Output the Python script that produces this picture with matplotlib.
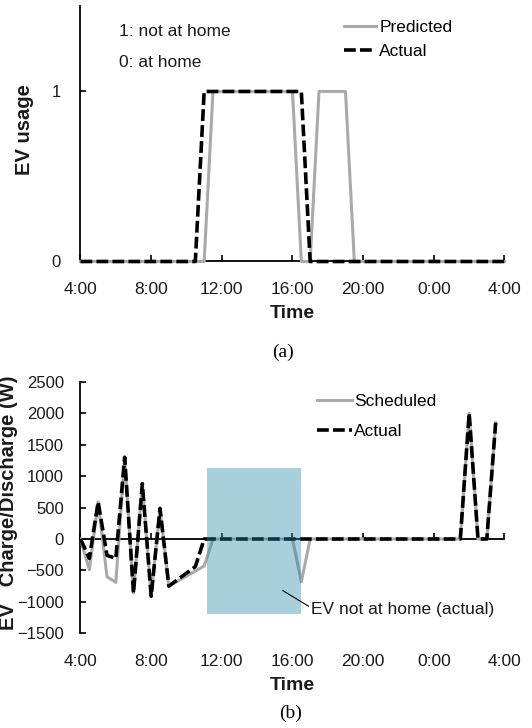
import matplotlib
matplotlib.use('Agg')
import matplotlib.pyplot as plt

plt.rcParams['font.family'] = ['Liberation Sans', 'DejaVu Sans']
plt.rcParams['lines.scale_dashes'] = False

# time axis in hours, 4:00 to 4:00 next day
tick_hours = [4, 8, 12, 16, 20, 24, 28]
tick_labels = ['4:00', '8:00', '12:00', '16:00', '20:00', '0:00', '4:00']

# (a) EV usage (1 = not at home, 0 = at home)
pred_t = [4, 11, 11.5, 16, 16.5, 17, 17.5, 19, 19.5, 28]
pred_u = [0, 0, 1, 1, 0, 0, 1, 1, 0, 0]
act_t = [4, 10.5, 11, 16.5, 17, 28]
act_u = [0, 0, 1, 1, 0, 0]

# (b) EV charge/discharge power in W
sched_t = [4, 4.5, 5, 5.5, 6, 6.5, 7, 7.5, 8, 8.5, 9, 11, 11.5, 16, 16.5, 17, 25.5, 26, 26.5, 27, 27.5]
sched_p = [0, -490, 590, -600, -690, 1300, -860, 880, -910, 485, -750, -430, 0, 0, -680, 0, 0, 2000, 0, 0, 1850]
real_t = [4, 4.5, 5, 5.5, 6, 6.5, 7, 7.5, 8, 8.5, 9, 10.5, 11, 25.5, 26, 26.5, 27, 27.5]
real_p = [0, -310, 590, -260, -310, 1300, -860, 880, -910, 485, -750, -440, 0, 0, 2000, 0, 0, 1850]
away_t = [11.15, 16.5]   # EV not at home (actual)
away_lo, away_hi = -1200, 1125

grey = '#aaaaaa'
dash = (8.5, 3)
txt = '#1a1a1a'

fig = plt.figure(figsize=(5.32, 7.28), dpi=100)
ax1 = fig.add_axes([0.1513, 0.6408, 0.797, 0.3503])
ax2 = fig.add_axes([0.1513, 0.1301, 0.797, 0.3454])

# ---- (a) ----
ax1.plot(pred_t, pred_u, color=grey, lw=2.2, label='Predicted', clip_on=False, zorder=3)
ax1.plot(act_t, act_u, color='black', lw=2.6, dashes=dash, label='Actual', clip_on=False, zorder=4)
ax1.set_xlim(4, 28)
ax1.set_ylim(0, 1.5)
ax1.set_xticks(tick_hours)
ax1.set_xticklabels(tick_labels)
ax1.set_yticks([0, 1])
for s in ['top', 'right']:
    ax1.spines[s].set_visible(False)
for s in ['left', 'bottom']:
    ax1.spines[s].set_linewidth(1.3)
ax1.tick_params(axis='x', direction='in', length=4, width=1.2, pad=15, labelsize=12.5, labelcolor=txt)
ax1.tick_params(axis='y', direction='in', length=4, width=1.2, pad=14, labelsize=12, labelcolor=txt)
ax1.set_xlabel('Time', fontsize=14, fontweight='bold', color=txt)
ax1.xaxis.set_label_coords(0.5, -0.172)
ax1.set_ylabel('EV usage', fontsize=14.5, fontweight='bold', color=txt)
ax1.yaxis.set_label_coords(-0.11, 0.517)
ax1.text(6.19, 1.35, '1: not at home', fontsize=12.5, va='center', color=txt)
ax1.text(6.19, 1.168, '0: at home', fontsize=12.5, va='center', color=txt)
ax1.legend(loc='center left', bbox_to_anchor=(0.621, 0.871), frameon=False, fontsize=12.5,
           handlelength=1.85, handletextpad=0.2, labelspacing=0.55, borderpad=0, borderaxespad=0)

# ---- (b) ----
ax2.fill_between(away_t, away_lo, away_hi, color='#2587a8', alpha=0.4, lw=0, zorder=5)
ax2.plot(sched_t, sched_p, color=grey, lw=2.2, label='Scheduled', zorder=3)
ax2.plot(real_t, real_p, color='black', lw=2.6, dashes=dash, label='Actual', zorder=4)
ax2.set_xlim(4, 28)
ax2.set_ylim(-1500, 2500)
ax2.set_yticks(range(-1500, 2501, 500))
ax2.set_xticks(tick_hours)
ax2.set_xticklabels(tick_labels)
for s in ['top', 'right', 'bottom']:
    ax2.spines[s].set_visible(False)
ax2.spines['left'].set_linewidth(1.3)
ax2.tick_params(axis='x', length=0, pad=15, labelsize=12.5, labelcolor=txt)
ax2.tick_params(axis='y', direction='in', length=4, width=1.2, pad=12, labelsize=12, labelcolor=txt)

# zero line with its own tick marks
y0, y1 = ax2.get_ylim()
zero = ax2.secondary_xaxis((0 - y0) / (y1 - y0))
zero.set_xticks(tick_hours)
zero.tick_params(direction='in', length=4, width=1.2, labelbottom=False, labeltop=False)
zero.spines['bottom'].set_linewidth(1.3)

ax2.set_xlabel('Time', fontsize=14, fontweight='bold', color=txt)
ax2.xaxis.set_label_coords(0.5, -0.175)
ax2.set_ylabel('EV   Charge/Discharge (W)', fontsize=14.5, fontweight='bold', color=txt)
ax2.yaxis.set_label_coords(-0.148, 0.52)
ax2.legend(loc='center left', bbox_to_anchor=(0.558, 0.863), frameon=False, fontsize=12.5,
           handlelength=2.0, handletextpad=0.15, labelspacing=0.85, borderpad=0, borderaxespad=0)
ax2.annotate('EV not at home (actual)', xy=(15.45, -820), xytext=(17.07, -1121),
             fontsize=12.5, va='center', ha='left', zorder=6, color=txt,
             arrowprops=dict(arrowstyle='-', color='black', lw=0.8, shrinkA=0, shrinkB=0,
                             relpos=(0, 0.6)))

fig.text(283 / 532, 1 - 352 / 728, '(a)', fontsize=14, family='Liberation Serif', ha='center', va='center')
fig.text(291 / 532, 1 - 713 / 728, '(b)', fontsize=14, family='Liberation Serif', ha='center', va='center')

fig.savefig('out.png', dpi=100)
